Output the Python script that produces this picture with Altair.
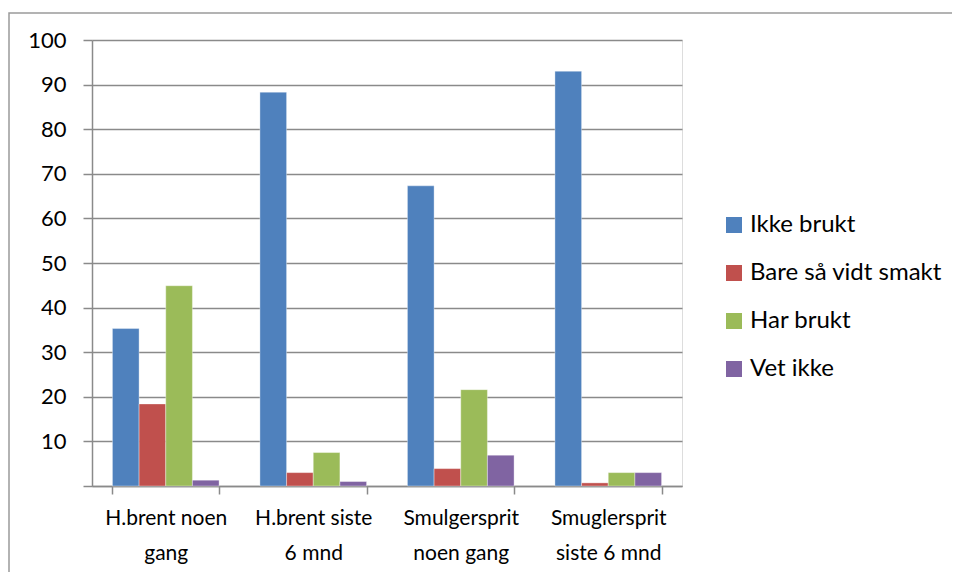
import altair as alt
import pandas as pd

categories = ["H.brent noen\ngang", "H.brent siste\n6 mnd", "Smulgersprit\nnoen gang", "Smuglersprit\nsiste 6 mnd"]
series = ["Ikke brukt", "Bare så vidt smakt", "Har brukt", "Vet ikke"]
colors = ["#4F81BD", "#C0504D", "#9BBB59", "#8064A2"]

ikke_brukt = [35.3, 88.3, 67.3, 93.0]
bare_smakt = [18.4, 3.0, 3.9, 0.7]
har_brukt = [44.9, 7.5, 21.6, 3.0]
vet_ikke = [1.3, 1.0, 6.9, 3.0]

y_ticks = [0, 10, 20, 30, 40, 50, 60, 70, 80, 90, 100]

rows = []
for s, vals in zip(series, [ikke_brukt, bare_smakt, har_brukt, vet_ikke]):
    for c, v in zip(categories, vals):
        rows.append({"kategori": c, "serie": s, "verdi": v})
df = pd.DataFrame(rows)

FONT = "Lato"
GRID = "#8a8a8a"

frame = alt.Chart(pd.DataFrame({"a": [0]})).mark_rect(
    fill=None, stroke="#9a9a9a", strokeWidth=1.5
).encode(
    x=alt.value(-83), x2=alt.value(900), y=alt.value(-27), y2=alt.value(700)
)

bars = alt.Chart(df).mark_bar(strokeWidth=0.6, strokeOpacity=0.6).encode(
    x=alt.X("kategori:N", sort=categories,
            scale=alt.Scale(paddingInner=0.277, paddingOuter=0.1385),
            axis=alt.Axis(title=None, labelAngle=0, labelFont=FONT,
                          labelFontSize=21, labelColor="#000", labelLineHeight=35,
                          labelExpr="split(datum.label, '\\n')", labelPadding=13,
                          tickBand="extent", tickSize=8, tickColor=GRID, tickWidth=1.5,
                          domainColor=GRID, domainWidth=1.5, grid=False, labelBaseline="top")),
    xOffset=alt.XOffset("serie:N", sort=series, scale=alt.Scale(paddingInner=0, paddingOuter=0)),
    y=alt.Y("verdi:Q", scale=alt.Scale(domain=[0, 100], nice=False),
            axis=alt.Axis(title=None, values=y_ticks, labelFont=FONT, labelFontSize=22,
                          labelColor="#000", labelPadding=17,
                          labelExpr="datum.value == 0 ? '' : datum.label",
                          tickSize=9, tickColor=GRID, tickWidth=1.5,
                          domainColor=GRID, domainWidth=1.5,
                          gridColor=GRID, gridWidth=1.5)),
    color=alt.Color("serie:N", sort=series,
                    scale=alt.Scale(domain=series, range=colors),
                    legend=alt.Legend(title=None, orient="none", legendX=630, legendY=173,
                                      symbolType="square", symbolSize=256, symbolStrokeWidth=0,
                                      labelFont=FONT, labelFontSize=24, labelColor="#000",
                                      labelLimit=400, labelOffset=4, rowPadding=24, padding=0)),
    stroke=alt.value("#ffffff"),
)

chart = alt.layer(frame, bars).properties(
    width=590, height=446,
    autosize=alt.AutoSizeParams(type="none"),
    padding={"left": 84, "top": 32, "right": 270, "bottom": 86},
).configure_view(stroke=None).configure(background="#ffffff")

chart.save("out.html", embed_options={"renderer": "svg", "actions": False})
